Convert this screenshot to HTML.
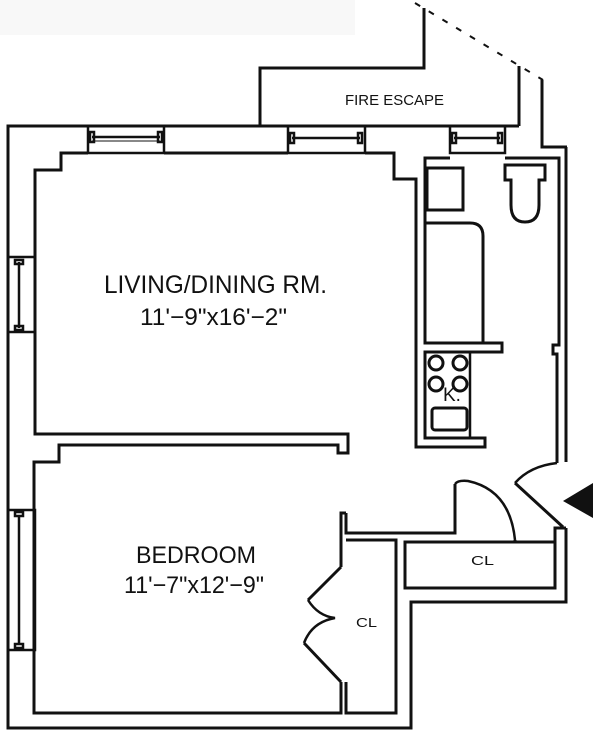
<!DOCTYPE html>
<html><head><meta charset="utf-8"><style>
html,body{margin:0;padding:0;background:#fff;}
svg{display:block}
text{font-family:"Liberation Sans",sans-serif;fill:#111;}
</style></head><body>
<svg width="600" height="737" viewBox="0 0 600 737" xmlns="http://www.w3.org/2000/svg">
<rect x="0" y="0" width="355" height="35" fill="#f8f8f8"/>
<g fill="none" stroke="#111" stroke-width="3" stroke-linejoin="miter">
<polyline points="260,126 260,68 424,68 424,8"/>
<line x1="415" y1="3" x2="543" y2="80" stroke-dasharray="6,10" stroke-width="2"/>
<polyline points="519,66 519,126"/>
<polyline points="542,80 542,147 567,147"/>
<polyline points="519,126 8,126 8,728 411,728 411,602 566,602 566,528"/>
<polyline points="566,462 566,147"/>
<polyline points="88,153 61,153 61,170 35,170 35,434 348,434 348,453 338,453 338,445 59,445 59,462 34,462 34,713 341,713 341,682"/>
<polyline points="164,153 288,153"/>
<polyline points="365,153 394,153 394,179 416,179 416,447 485,447 485,438 425,438 425,352 502,352 502,343 425,343 425,158 450,158"/>
<polyline points="505,158 559,158 559,345 553,345 553,354 557,354 557,463"/>
<rect x="88" y="126" width="76" height="27" stroke-width="2.5"/>
<rect x="288" y="126" width="77" height="27" stroke-width="2.5"/>
<rect x="450" y="126" width="55" height="27" stroke-width="2.5"/>
<rect x="8" y="257" width="27" height="75" stroke-width="2.5"/>
<rect x="8" y="510" width="27" height="140" stroke-width="2.5"/>
</g>
<g stroke="#111" stroke-width="2.5" fill="none">
<line x1="92" y1="137" x2="160" y2="137"/><line x1="92" y1="141" x2="160" y2="141" stroke-width="1"/>
<rect x="90" y="132" width="4" height="10"/><rect x="158" y="132" width="4" height="10"/>
<line x1="292" y1="138" x2="360" y2="138"/><rect x="290" y="133" width="4" height="10"/><rect x="358" y="133" width="4" height="10"/>
<line x1="454" y1="138" x2="500" y2="138"/><rect x="452" y="133" width="4" height="10"/><rect x="498" y="133" width="4" height="10"/>
<line x1="19" y1="262" x2="19" y2="328"/><rect x="15" y="260" width="8" height="4"/><rect x="15" y="326" width="8" height="4"/>
<line x1="19" y1="515" x2="19" y2="645"/><rect x="15" y="512" width="8" height="4"/><rect x="15" y="644" width="8" height="4"/>
<g stroke-width="3">
<rect x="427" y="168" width="36" height="42"/>
<path d="M505,165 L545,165 L545,180 L539,180 L539,205 Q539,222 525,222 Q511,222 511,205 L511,180 L505,180 Z"/>
<path d="M425,223 L470,223 Q483,223 483,236 L483,343"/>
<circle cx="436" cy="363" r="7"/><circle cx="460" cy="363" r="7"/>
<circle cx="436" cy="384" r="7"/><circle cx="460" cy="384" r="7"/>
<rect x="432" y="408" width="35" height="22" rx="3"/>
</g>
<line x1="470" y1="352" x2="470" y2="438"/>
<path d="M515,483 Q530,466 557,463"/>
<line x1="515" y1="483" x2="563" y2="527" stroke-width="3"/>
<polyline points="346,513 346,533 455,533 455,484" stroke-width="3"/>
<path d="M455,484 Q458,480 468,481 Q510,490 515,540" />
<polyline points="515,540 515,542 555,542 555,528 566,528" stroke-width="3"/>
<rect x="405" y="542" width="150" height="46" stroke-width="3"/>
<polyline points="346,513 341,513 341,567" stroke-width="3"/>
<polyline points="346,540 396,540 396,713 346,713 346,682" stroke-width="3"/>
<polyline points="341,567 308,600" stroke-width="3"/>
<path d="M308,600 Q318,616 335,618 Q312,622 304,643"/>
<polyline points="304,643 341,682" stroke-width="3"/>
</g>
<polygon points="563,501 593,483 593,518" fill="#111"/>
<text x="104" y="293" font-size="25" textLength="223" lengthAdjust="spacingAndGlyphs">LIVING/DINING RM.</text>
<text x="140" y="325" font-size="24" textLength="147" lengthAdjust="spacingAndGlyphs">11'−9"x16'−2"</text>
<text x="136" y="563" font-size="24" textLength="120" lengthAdjust="spacingAndGlyphs">BEDROOM</text>
<text x="124" y="593" font-size="24" textLength="140" lengthAdjust="spacingAndGlyphs">11'−7"x12'−9"</text>
<text x="345" y="105" font-size="15" textLength="99" lengthAdjust="spacingAndGlyphs">FIRE ESCAPE</text>
<text x="471" y="565" font-size="13" textLength="23" lengthAdjust="spacingAndGlyphs">CL</text>
<text x="356" y="627" font-size="13" textLength="21" lengthAdjust="spacingAndGlyphs">CL</text>
<text x="443" y="401" font-size="19">K.</text>
</svg>
</body></html>
